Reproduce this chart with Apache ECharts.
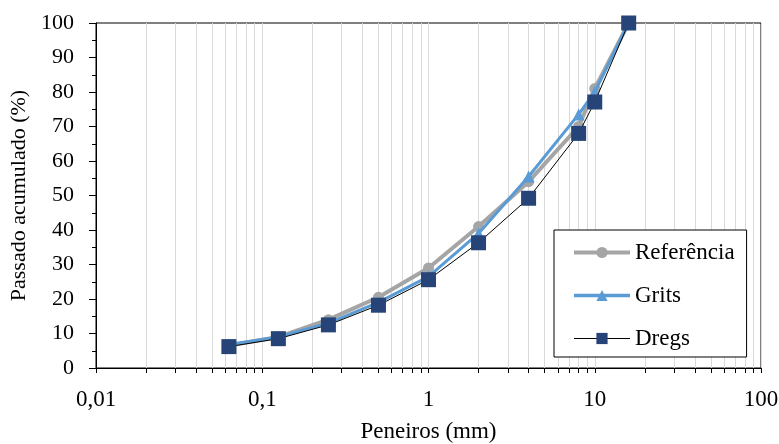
<!DOCTYPE html>
<html>
<head>
<meta charset="utf-8">
<script src="https://cdn.jsdelivr.net/npm/echarts@6/dist/echarts.min.js"></script>
<style>html,body{margin:0;padding:0;background:#fff;}#c{width:779px;height:444px;}</style>
</head>
<body>
<div id="c"></div>
<script>
const sieves = [0.063, 0.125, 0.25, 0.5, 1, 2, 4, 8, 10, 16];
const referencia = [6.5, 9, 14, 20.5, 29, 41, 54, 70, 81, 100];
const grits = [6.8, 9, 13, 19, 26.5, 39, 55.5, 73.5, 80, 100];
const dregs = [6.2, 8.5, 12.5, 18.2, 25.6, 36.3, 49.2, 68, 77.1, 100];
const xMin = 0.01, xMax = 100;
const yMin = 0, yMax = 100, yStep = 10;

const FONT = '"Liberation Serif","Times New Roman",serif';
const pairs = arr => sieves.map((x, i) => [x, arr[i]]);
const GRID_GRAY = '#D9D9D9';

const chart = echarts.init(document.getElementById('c'), null, {renderer:'canvas'});
chart.setOption({
  animation: false,
  backgroundColor: '#fff',
  textStyle: {fontFamily: FONT, color: '#000'},
  grid: {left: 96, right: 18, top: 23, bottom: 76, show: true, borderColor: '#000', borderWidth: 1,
    backgroundColor: 'transparent', containLabel: false, outerBoundsMode: 'none'},
  legend: {
    orient: 'vertical', left: 554, top: 230,
    backgroundColor: '#fff',
    borderColor: '#000', borderWidth: 1,
    padding: [11, 12, 7, 18],
    itemWidth: 56, itemHeight: 14, itemGap: 20,
    textStyle: {fontFamily: FONT, fontSize: 23, color: '#000', lineHeight: 21},
    data: [
      {name: 'Referência', lineStyle: {width: 4, color: '#A5A5A5'}},
      {name: 'Grits', lineStyle: {width: 3.5, color: '#5B9BD5'}},
      {name: 'Dregs', lineStyle: {width: 1, color: '#000'}}
    ]
  },
  xAxis: {
    type: 'log', logBase: 10, min: xMin, max: xMax,
    name: 'Peneiros (mm)', nameLocation: 'middle', nameGap: 52,
    nameTextStyle: {fontFamily: FONT, fontSize: 23, color: '#000'},
    axisLine: {show: true, onZero: false, lineStyle: {color: '#000', width: 1}},
    axisTick: {show: true, length: 5, lineStyle: {color: '#000'}},
    axisLabel: {show: true, margin: 20, fontFamily: FONT, fontSize: 23, color: '#000',
      formatter: v => String(Number(Number(v).toPrecision(6))).replace('.', ',')},
    splitLine: {show: true, lineStyle: {color: GRID_GRAY, width: 1}},
    minorTick: {show: true, splitNumber: 9, length: 5, lineStyle: {color: '#000'}},
    minorSplitLine: {show: true, lineStyle: {color: GRID_GRAY, width: 1}}
  },
  yAxis: {
    type: 'value', min: yMin, max: yMax, interval: yStep,
    name: 'Passado acumulado (%)', nameLocation: 'middle', nameGap: 64,
    nameTextStyle: {fontFamily: FONT, fontSize: 22, color: '#000'},
    axisLine: {show: true, onZero: false, lineStyle: {color: '#000', width: 1}},
    axisTick: {show: true, length: 7, lineStyle: {color: '#000'}},
    minorTick: {show: true, splitNumber: 2, length: 4, lineStyle: {color: '#000'}},
    axisLabel: {margin: 22, fontFamily: FONT, fontSize: 22, color: '#000'},
    splitLine: {show: false}
  },
  series: [
    {
      name: 'Referência', type: 'line', data: pairs(referencia), z: 2,
      symbol: 'circle', symbolSize: 11,
      itemStyle: {color: '#A5A5A5'},
      lineStyle: {color: '#A5A5A5', width: 4}
    },
    {
      name: 'Grits', type: 'line', data: pairs(grits), z: 3,
      symbol: 'triangle', symbolSize: 12,
      itemStyle: {color: '#5B9BD5'},
      lineStyle: {color: '#5B9BD5', width: 3}
    },
    {
      name: 'Dregs', type: 'line', data: pairs(dregs), z: 4,
      symbol: 'rect', symbolSize: 15,
      itemStyle: {color: '#264478'},
      lineStyle: {color: '#000', width: 1}
    }
  ]
});
</script>
</body>
</html>
